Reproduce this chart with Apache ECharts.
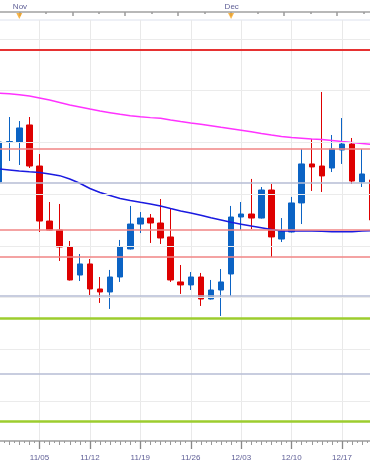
<!DOCTYPE html>
<html><head><meta charset="utf-8">
<script src="https://cdn.jsdelivr.net/npm/echarts@6/dist/echarts.min.js"></script>
<style>html,body{margin:0;padding:0;background:#fff}#c{width:370px;height:466px}</style>
</head><body><div id="c"></div>
<script>
const dates = ['10/30','10/31','11/01','11/02','11/05','11/06','11/07','11/08','11/09',
  '11/12','11/13','11/14','11/15','11/16','11/19','11/20','11/21','11/22','11/23',
  '11/26','11/27','11/28','11/29','11/30','12/03','12/04','12/05','12/06','12/07',
  '12/10','12/11','12/12','12/13','12/14','12/17','12/18','12/19','12/20'];
const opens  = [1.14118,1.14500,1.14504,1.14669,1.14272,1.13740,1.13653,1.13489,1.13218,
  1.13325,1.13083,1.13054,1.13199,1.13470,1.13711,1.13769,1.13721,1.13586,1.13151,
  1.13122,1.13199,1.12986,1.13073,1.13228,1.13779,1.13808,1.13769,1.14040,1.13566,
  1.13634,1.13915,1.14292,1.14272,1.14253,1.14427,1.14485,1.14118,1.14137];
const closes = [1.14504,1.14509,1.14640,1.14272,1.13740,1.13653,1.13489,1.13170,1.13325,
  1.13083,1.13054,1.13199,1.13489,1.13711,1.13769,1.13721,1.13576,1.13170,1.13122,
  1.13199,1.12986,1.13073,1.13151,1.13779,1.13808,1.13769,1.14040,1.13586,1.13644,
  1.13915,1.14292,1.14263,1.14176,1.14437,1.14485,1.14127,1.14195,1.13750];
const lows   = [1.14089,1.14321,1.14282,1.14253,1.13634,1.13649,1.13354,1.13165,1.13160,
  1.13025,1.12948,1.12890,1.13151,1.13465,1.13624,1.13528,1.13518,1.13151,1.13035,
  1.13073,1.12919,1.12981,1.12822,1.13015,1.13653,1.13663,1.13764,1.13392,1.13537,
  1.13629,1.13711,1.14031,1.14021,1.14214,1.14292,1.14098,1.14069,1.13711];
const highs  = [1.14533,1.14746,1.14707,1.14746,1.14388,1.13924,1.13905,1.13547,1.13421,
  1.13373,1.13199,1.13267,1.13557,1.13886,1.13827,1.13808,1.13953,1.13866,1.13315,
  1.13247,1.13238,1.13170,1.13276,1.13886,1.13924,1.14147,1.14069,1.14098,1.13769,
  1.13973,1.14437,1.14533,1.14988,1.14572,1.14736,1.14543,1.14437,1.14176];
const maSlow = [1.14976,1.14970,1.14961,1.14949,1.14930,1.14910,1.14886,1.14862,1.14843,
  1.14823,1.14804,1.14788,1.14772,1.14759,1.14748,1.14740,1.14733,1.14717,1.14702,
  1.14688,1.14676,1.14662,1.14647,1.14633,1.14619,1.14603,1.14587,1.14572,1.14558,
  1.14548,1.14541,1.14533,1.14529,1.14519,1.14509,1.14500,1.14490,1.14480];
const maFast = [1.14243,1.14234,1.14224,1.14216,1.14209,1.14195,1.14179,1.14147,1.14105,
  1.14055,1.14016,1.13987,1.13958,1.13939,1.13921,1.13905,1.13886,1.13861,1.13837,
  1.13818,1.13796,1.13772,1.13750,1.13728,1.13710,1.13692,1.13675,1.13658,1.13644,
  1.13644,1.13644,1.13644,1.13642,1.13637,1.13636,1.13636,1.13644,1.13647];
const weekLabels = ['11/05','11/12','11/19','11/26','12/03','12/10','12/17'];
const monthMarks = [['11/01','Nov'],['11/30','Dec']];
const gridLevels = [1.120,1.125,1.130,1.135,1.140,1.145,1.150,1.155];
const resistLevels = [1.15394];
const redLevels = [1.14437,1.13653,1.13392];
const grayLevels = [1.14108,1.13015,1.12261];
const greenLevels = [1.12803,1.11807];

const N = dates.length;
const halfCats = [];
for (let k = 0; k <= 2 * N; k++) halfCats.push(k % 2 ? dates[(k - 1) / 2] : 'b' + k);
const SUB = 8, TOP_STEP = 21;
const topCats = [];
for (let j = 0; j < N * SUB; j++) topCats.push('t' + j);
const monthSub = monthMarks.map(m => dates.indexOf(m[0]) * SUB + SUB / 2);
const topBase = monthSub[0];
const modp = (a, b) => ((a % b) + b) % b;
const isWeek = (i, v) => weekLabels.indexOf(v) >= 0;

const markData = [];
gridLevels.forEach(v => markData.push({yAxis: v, lineStyle: {color: '#ebebeb', width: 1, type: 'solid'}}));
grayLevels.forEach(v => markData.push({yAxis: v, lineStyle: {color: '#b6bcd4', width: 1.5, type: 'solid'}}));
redLevels.forEach(v => markData.push({yAxis: v, lineStyle: {color: '#f08484', width: 1.5, type: 'solid'}}));
resistLevels.forEach(v => markData.push({yAxis: v, lineStyle: {color: '#e63232', width: 2, type: 'solid'}}));
greenLevels.forEach(v => markData.push({yAxis: v, lineStyle: {color: '#9dcd2e', width: 2.5, type: 'solid'}}));

const labelColor = '#5e5e96';
const font = 'Liberation Sans, Arial, sans-serif';

const chart = echarts.init(document.getElementById('c'), null, {renderer: 'canvas'});
chart.setOption({
  animation: false,
  backgroundColor: '#fff',
  grid: {left: -5.875, top: 20, width: 383.17, height: 421, show: true,
    outerBoundsMode: 'none', containLabel: false,
    borderColor: '#dde2ee', borderWidth: 1, backgroundColor: 'transparent'},
  xAxis: [
    {type: 'category', data: dates, position: 'bottom', boundaryGap: true,
      axisLine: {show: true, lineStyle: {color: '#b4b4b4', width: 2}},
      axisTick: {show: true, interval: 0, length: 2, lineStyle: {color: '#999', width: 1}},
      axisLabel: {show: false}, splitLine: {show: false}},
    {type: 'category', data: halfCats, position: 'bottom', boundaryGap: false,
      axisLine: {show: false},
      axisTick: {show: true, interval: (i) => i % 2 === 1, length: 4, lineStyle: {color: '#999', width: 1}},
      axisLabel: {show: false}, splitLine: {show: false}},
    {type: 'category', data: halfCats, position: 'bottom', boundaryGap: false,
      axisLine: {show: false},
      axisTick: {show: true, interval: isWeek, length: 8, lineStyle: {color: '#888', width: 1.3}},
      axisLabel: {show: true, interval: isWeek, margin: 13, fontSize: 8, color: labelColor, fontFamily: font},
      splitLine: {show: true, interval: isWeek, lineStyle: {color: '#e9e9e9', width: 1}}},
    {type: 'category', data: topCats, position: 'top', offset: 8, boundaryGap: true,
      axisLine: {show: true, lineStyle: {color: '#b8b8b8', width: 2}},
      axisTick: {show: true, inside: true, interval: (j) => modp(j - topBase, 2 * TOP_STEP) === 0,
        length: 4, lineStyle: {color: '#9a9a9a', width: 1.5}},
      axisLabel: {show: true, interval: (j) => monthSub.indexOf(j) >= 0,
        formatter: (v, j) => { const m = monthSub.indexOf(j); return m >= 0 ? monthMarks[m][1] : ''; },
        margin: 1.5, fontSize: 8, color: labelColor, fontFamily: font},
      splitLine: {show: false}},
    {type: 'category', data: topCats, position: 'top', offset: 8, boundaryGap: true,
      axisLine: {show: false},
      axisTick: {show: true, inside: true, interval: (j) => modp(j - topBase, 2 * TOP_STEP) === TOP_STEP,
        length: 2, lineStyle: {color: '#9a9a9a', width: 1.5}},
      axisLabel: {show: false}, splitLine: {show: false}}
  ],
  yAxis: [
    {type: 'value', min: 1.11613, max: 1.15684, show: false},
    {type: 'value', min: 0, max: 1, show: false}
  ],
  series: [
    {type: 'line', xAxisIndex: 0, yAxisIndex: 0, data: [], z: 1,
      markLine: {silent: true, precision: 6, symbol: ['none', 'none'], label: {show: false}, animation: false, data: markData}},
    {type: 'candlestick', xAxisIndex: 0, yAxisIndex: 0, z: 3, barWidth: 6,
      data: dates.map((d, i) => [opens[i], closes[i], lows[i], highs[i]]),
      itemStyle: {color: '#0b63c4', color0: '#de0000', borderColor: '#0b63c4', borderColor0: '#de0000', borderWidth: 1}},
    {type: 'line', xAxisIndex: 0, yAxisIndex: 0, z: 4, data: maSlow, symbol: 'none',
      lineStyle: {color: '#ff33ff', width: 1.5}},
    {type: 'line', xAxisIndex: 0, yAxisIndex: 0, z: 4, data: maFast, symbol: 'none',
      lineStyle: {color: '#1a1ae0', width: 1.5}},
    {type: 'scatter', xAxisIndex: 0, yAxisIndex: 1, z: 5, clip: false,
      data: monthMarks.map(m => [m[0], 1]),
      symbol: 'triangle', symbolRotate: 180, symbolSize: [6, 6], symbolOffset: [0, -4],
      itemStyle: {color: '#f5a21b'}}
  ]
});
</script></body></html>
